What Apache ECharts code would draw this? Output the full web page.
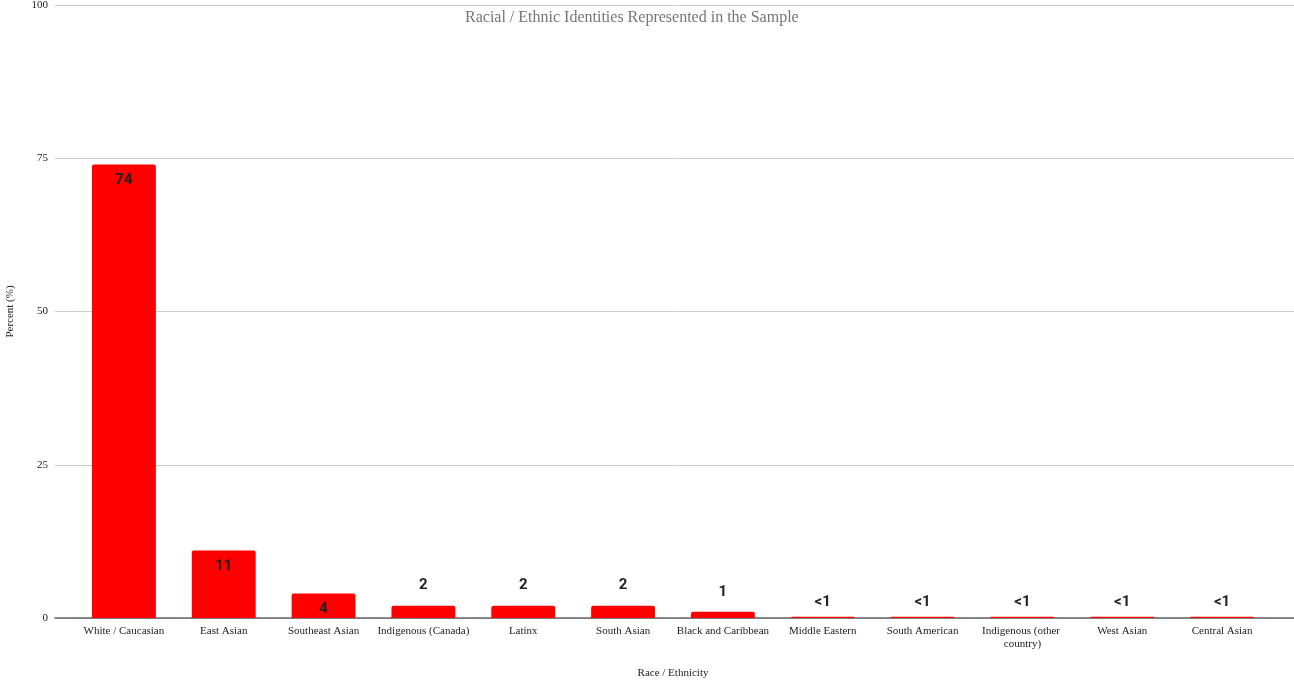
<!DOCTYPE html>
<html>
<head>
<meta charset="utf-8">
<title>Racial / Ethnic Identities Represented in the Sample</title>
<script src="https://cdn.jsdelivr.net/npm/echarts@6/dist/echarts.min.js"></script>
<style>
  html, body { margin: 0; padding: 0; background: #fff; }
  #chart { width: 1294px; height: 684px; }
</style>
</head>
<body>
<div id="chart"></div>
<script>
// Survey breakdown by race / ethnicity (percent of respondents)
const categories = [
  'White / Caucasian', 'East Asian', 'Southeast Asian', 'Indigenous (Canada)',
  'Latinx', 'South Asian', 'Black and Caribbean', 'Middle Eastern',
  'South American', 'Indigenous (other country)', 'West Asian', 'Central Asian'
];
const percents = [74, 11, 4, 2, 2, 2, 1, 0.2, 0.2, 0.2, 0.2, 0.2];
const valueLabels = ['74', '11', '4', '2', '2', '2', '1', '<1', '<1', '<1', '<1', '<1'];
const yTicks = [0, 25, 50, 75, 100];

const serif = '"Liberation Serif", "DejaVu Serif", serif';
const sans = 'Roboto, "Noto Sans", sans-serif';

// Tall bars carry their value inside the top; short ones above it
const barData = percents.map(v => {
  let label;
  if (v >= 4) {
    label = { position: 'insideTop', distance: 8 };
  } else {
    label = { position: 'top', distance: v < 1 ? 7 : (v < 2 ? 12 : 13) };
  }
  return { value: v, label: label };
});

const chart = echarts.init(document.getElementById('chart'));
chart.setOption({
  animation: false,
  backgroundColor: '#ffffff',
  title: {
    text: 'Racial / Ethnic Identities Represented in the Sample',
    left: 460,
    top: 5,
    textStyle: { fontFamily: serif, fontSize: 16, fontWeight: 'normal', color: '#757575' }
  },
  grid: [
    { left: 55, right: 0, top: 5, bottom: 66, outerBoundsMode: 'none' },
    { left: 74, right: 22, top: 5, bottom: 66, outerBoundsMode: 'none' }
  ],
  xAxis: [
    {
      gridIndex: 0, type: 'value', min: 0, max: 1,
      axisLine: { show: true, lineStyle: { color: '#666', width: 1.5 } },
      axisTick: { show: false }, axisLabel: { show: false }, splitLine: { show: false }
    },
    {
      gridIndex: 1, type: 'category', data: categories,
      axisLine: { show: false }, axisTick: { show: false },
      axisLabel: {
        interval: 0, margin: 7, width: 100, overflow: 'break',
        fontFamily: serif, fontSize: 11, color: '#222', lineHeight: 13
      },
      name: 'Race / Ethnicity', nameLocation: 'middle', nameGap: 50,
      nameTextStyle: { fontFamily: serif, fontSize: 11, color: '#222' }
    }
  ],
  yAxis: [
    {
      gridIndex: 0, type: 'value', min: yTicks[0], max: yTicks[yTicks.length - 1],
      interval: yTicks[1] - yTicks[0],
      axisLine: { show: false }, axisTick: { show: false },
      axisLabel: { fontFamily: serif, fontSize: 11, color: '#222', margin: 7 },
      splitLine: { lineStyle: { color: '#cccccc', width: 1 } },
      name: 'Percent (%)', nameLocation: 'middle', nameRotate: 90, nameGap: 39,
      nameTextStyle: { fontFamily: serif, fontSize: 11, color: '#222' }
    },
    {
      gridIndex: 1, type: 'value', min: yTicks[0], max: yTicks[yTicks.length - 1],
      show: false
    }
  ],
  series: [
    {
      type: 'bar',
      xAxisIndex: 1, yAxisIndex: 1,
      data: barData,
      barCategoryGap: '36%',
      itemStyle: { color: '#ff0000', borderRadius: [2, 2, 0, 0] },
      label: {
        show: true,
        formatter: p => valueLabels[p.dataIndex],
        fontFamily: sans, fontSize: 15, fontWeight: 'bold', color: '#222'
      },
      z: 1
    }
  ]
});
</script>
</body>
</html>
